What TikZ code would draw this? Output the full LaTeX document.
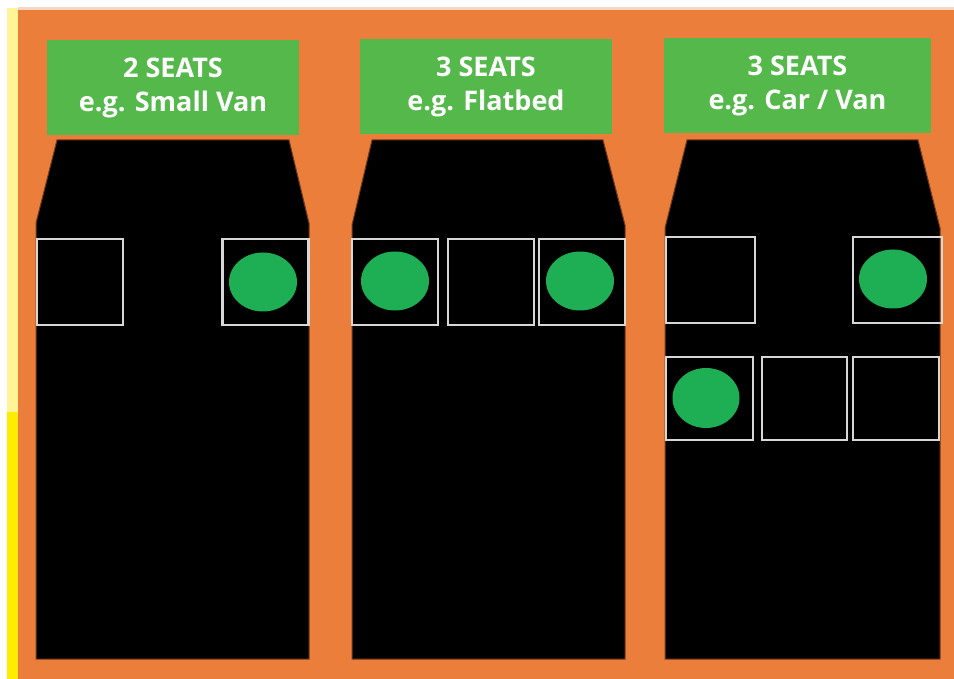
\documentclass[tikz,border=0pt]{standalone}
\usepackage{fontspec}
\newfontfamily\labfont{Open Sans}
\usetikzlibrary{shapes.geometric}
\definecolor{orangebg}{RGB}{236,126,59}
\definecolor{boxgreen}{RGB}{84,184,75}
\definecolor{dotgreen}{RGB}{30,175,85}
\definecolor{paleyellow}{RGB}{255,244,150}
\definecolor{brightyellow}{RGB}{255,236,0}
\definecolor{peach}{RGB}{246,214,196}
\definecolor{shadowbrown}{RGB}{120,62,25}
\definecolor{seatline}{RGB}{215,215,215}
\begin{document}
\begin{tikzpicture}[x=1pt,y=-1pt,
  labelbox/.style={fill=boxgreen, text=white, font=\labfont\bfseries\fontsize{27}{34}\selectfont,
    align=center, inner sep=0pt, minimum height=95pt},
  vehicle/.style={fill=black, draw=shadowbrown, line width=1pt, line join=miter},
  seatbox/.style={draw=seatline, line width=2.5pt, inner sep=0pt, minimum width=86pt, minimum height=86pt},
  passenger/.style={ellipse, fill=dotgreen, inner sep=0pt, minimum width=68pt, minimum height=59pt}
]
\useasboundingbox (0,0) rectangle (954,679);
\fill[white] (0,0) rectangle (954,679);
% background
\fill[paleyellow] (7,8) rectangle (18,412);
\fill[brightyellow] (7,412) rectangle (18,679);
\fill[peach] (18,7) rectangle (954,10);
\fill[orangebg] (18,10) rectangle (954,679);

% labels
\node[labelbox, minimum width=252pt] (lab1) at (173,87.5) {2 SEATS\\e.g. Small Van};
\node[labelbox, minimum width=252pt] (lab2) at (486,87) {3 SEATS\\e.g. Flatbed};
\node[labelbox, minimum width=267pt] (lab3) at (797.5,85.5) {3 SEATS\\e.g. Car / Van};

% vehicles
\path[vehicle] (57,140) -- (289,140) -- (309,223) -- (309,659) -- (36,659) -- (36,223) -- cycle;
\path[vehicle] (372,140) -- (603,140) -- (625,225) -- (625,659) -- (352,659) -- (352,225) -- cycle;
\path[vehicle] (687,140) -- (918,140) -- (940,228) -- (940,659) -- (665,659) -- (665,228) -- cycle;

% seats vehicle 1
\node[seatbox] (s11) at (80,282) {};
\node[seatbox] (s12) at (265.5,282) {};
\node[passenger] (p12) at (263,282) {};
% seats vehicle 2
\node[seatbox] (s21) at (395,282) {};
\node[seatbox] (s22) at (491,282) {};
\node[seatbox] (s23) at (582,282) {};
\node[passenger] (p21) at (395,281) {};
\node[passenger] (p23) at (580,281) {};
% seats vehicle 3
\node[seatbox, minimum width=89pt] (s31) at (710.5,280) {};
\node[seatbox, minimum width=89pt] (s32) at (897.5,280) {};
\node[seatbox, minimum width=87pt, minimum height=83pt] (s33) at (709.5,398.5) {};
\node[seatbox, minimum width=85pt, minimum height=83pt] (s34) at (804.5,398.5) {};
\node[seatbox, minimum width=86pt, minimum height=83pt] (s35) at (896,398.5) {};
\node[passenger] (p32) at (893,279) {};
\node[passenger, minimum width=67pt, minimum height=60pt] (p33) at (706,398) {};
\end{tikzpicture}
\end{document}
